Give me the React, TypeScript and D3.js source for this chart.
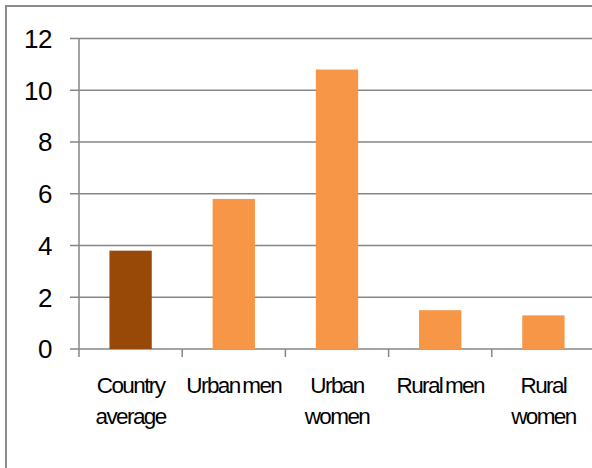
import React from "react";
import * as d3 from "d3";

const categories = [["Country", "average"], ["Urban men"], ["Urban", "women"], ["Rural men"], ["Rural", "women"]];
const values = [3.8, 5.8, 10.8, 1.5, 1.3];
const colors = ["#984807", "#F79646", "#F79646", "#F79646", "#F79646"];
const yTicks = [0, 2, 4, 6, 8, 10, 12];

export default function App() {
  const W = 592, H = 468;
  const left = 79, right = 595, top = 38.5, bottom = 349;
  const keys = categories.map((c) => c.join(" "));
  const x = d3.scaleBand<string>().domain(keys).range([left, right]).paddingInner(0.59).paddingOuter(0.295);
  const xs = d3.scaleBand<string>().domain(keys).range([left, right]);
  const y = d3.scaleLinear().domain([0, 12]).range([bottom, top]);
  const font = "'Liberation Sans', Arial, sans-serif";
  return (
    <svg width={W} height={H} style={{ position: "absolute", left: 0, top: 0, background: "#fff" }}>
      <rect x={6} y={6} width={800} height={800} fill="#fff" stroke="#8c8c8c" strokeWidth={2} />
      {yTicks.map((t) => (
        <g key={t}>
          <line x1={70} x2={right} y1={y(t)} y2={y(t)} stroke="#868686" strokeWidth={1.5} />
          <text x={52} y={y(t)} dy="0.36em" textAnchor="end" fontFamily={font} fontSize={26} fill="#000" letterSpacing={-0.5}>{t}</text>
        </g>
      ))}
      <line x1={left} x2={left} y1={top} y2={bottom + 8} stroke="#868686" strokeWidth={1.5} />
      {keys.map((k, i) => (
        <line key={"t" + i} x1={xs(k)! + xs.bandwidth()} x2={xs(k)! + xs.bandwidth()} y1={bottom} y2={bottom + 8} stroke="#868686" strokeWidth={1.5} />
      ))}
      {keys.map((k, i) => (
        <rect key={k} x={x(k)} y={y(values[i])} width={x.bandwidth()} height={bottom - y(values[i])} fill={colors[i]} />
      ))}
      {categories.map((c, i) => (
        <text key={"l" + i} x={xs(keys[i])! + xs.bandwidth() / 2} y={393} textAnchor="middle" fontFamily={font} fontSize={22.5} fill="#000" letterSpacing={-1.6} wordSpacing={-2}>
          {c.map((line, j) => (
            <tspan key={j} x={xs(keys[i])! + xs.bandwidth() / 2} dy={j === 0 ? 0 : 31}>{line}</tspan>
          ))}
        </text>
      ))}
    </svg>
  );
}
